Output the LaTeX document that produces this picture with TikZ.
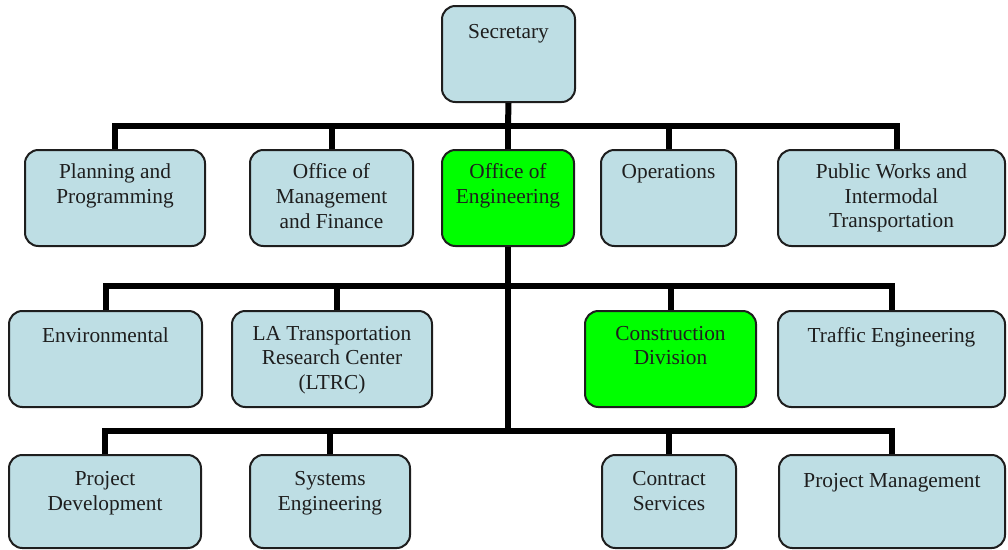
\documentclass[tikz,border=0pt]{standalone}
\usepackage{fontspec}
\setmainfont{Liberation Serif}
\usetikzlibrary{fit}
\definecolor{boxblue}{RGB}{190,222,228}
\definecolor{boxgreen}{RGB}{0,255,0}
\definecolor{edge}{RGB}{30,30,30}
\definecolor{ink}{RGB}{30,30,30}
\begin{document}
\begin{tikzpicture}[x=0.75pt,y=-0.75pt,
  orgbox/.style={draw=edge, line width=1.5pt, rounded corners=10pt, inner sep=0pt, fill=boxblue},
  hilite/.style={orgbox, fill=boxgreen},
  caption/.style={anchor=north, align=center, inner sep=0pt, text=ink,
    font=\fontsize{16}{18.4}\selectfont},
  link/.style={line width=4.5pt, draw=black}]
\useasboundingbox (0,0) rectangle (1008,550);

% top level
\node[orgbox, fit={(442,6)(575,102)}] (sec) {};

% first tier
\node[orgbox, fit={(25,150)(205,246)}]   (plan) {};
\node[orgbox, fit={(250,150)(413,246)}]  (omf)  {};
\node[hilite, fit={(442,150)(574,246)}]  (eng)  {};
\node[orgbox, fit={(601,150)(736,246)}]  (ops)  {};
\node[orgbox, fit={(778,150)(1005,246)}] (pw)   {};

% second tier
\node[orgbox, fit={(9,311)(202,407)}]    (env)  {};
\node[orgbox, fit={(232,311)(432,407)}]  (ltrc) {};
\node[hilite, fit={(585,311)(756,407)}]  (cons) {};
\node[orgbox, fit={(778,311)(1005,407)}] (traf) {};

% third tier
\node[orgbox, fit={(9,455)(201,548)}]    (pd)   {};
\node[orgbox, fit={(250,455)(410,548)}]  (se)   {};
\node[orgbox, fit={(602,455)(736,548)}]  (cs)   {};
\node[orgbox, fit={(779,455)(1005,548)}] (pm)   {};

% captions
\node[caption] (sec-t)  at ([yshift=-14pt]sec.north)  {Secretary};
\node[caption] (plan-t) at ([yshift=-11pt]plan.north) {Planning and\\Programming};
\node[caption] (omf-t)  at ([yshift=-11pt]omf.north)  {Office of\\Management\\and Finance};
\node[caption] (eng-t)  at ([yshift=-11pt]eng.north)  {Office of\\Engineering};
\node[caption] (ops-t)  at ([yshift=-11pt]ops.north)  {Operations};
\node[caption] (pw-t)   at ([yshift=-11pt]pw.north)   {Public Works and\\Intermodal\\Transportation};
\node[caption] (env-t)  at ([yshift=-13pt]env.north)  {Environmental};
\node[caption] (ltrc-t) at ([yshift=-12pt]ltrc.north) {LA Transportation\\Research Center\\(LTRC)};
\node[caption] (cons-t) at ([yshift=-12pt]cons.north) {Construction\\Division};
\node[caption] (traf-t) at ([yshift=-13pt]traf.north) {Traffic Engineering};
\node[caption] (pd-t)   at ([yshift=-13pt]pd.north)   {Project\\Development};
\node[caption] (se-t)   at ([yshift=-13pt]se.north)   {Systems\\Engineering};
\node[caption] (cs-t)   at ([yshift=-13pt]cs.north)   {Contract\\Services};
\node[caption] (pm-t)   at ([yshift=-14pt]pm.north)   {Project Management};

% bus lines
\coordinate (bus1) at (508,126);
\coordinate (bus2) at (508,286);
\coordinate (bus3) at (508,431);

\draw[link] (sec.south) -- (bus1);
\draw[link] (plan.north) -- (plan.north |- bus1) -- ([xshift=4pt]pw.north |- bus1) -- ([xshift=4pt]pw.north);
\foreach \n in {omf,eng,ops} \draw[link] (\n.north) -- (\n.north |- bus1);

\draw[link] (eng.south) -- (bus3);

\draw[link] (env.north) -- (env.north |- bus2) -- (traf.north |- bus2) -- (traf.north);
\draw[link] ([xshift=3.5pt]ltrc.north) -- ([xshift=3.5pt]ltrc.north |- bus2);
\draw[link] (cons.north) -- (cons.north |- bus2);

\draw[link] (pd.north) -- (pd.north |- bus3) -- (pm.north |- bus3) -- (pm.north);
\foreach \n in {se,cs} \draw[link] (\n.north) -- (\n.north |- bus3);
\end{tikzpicture}
\end{document}
